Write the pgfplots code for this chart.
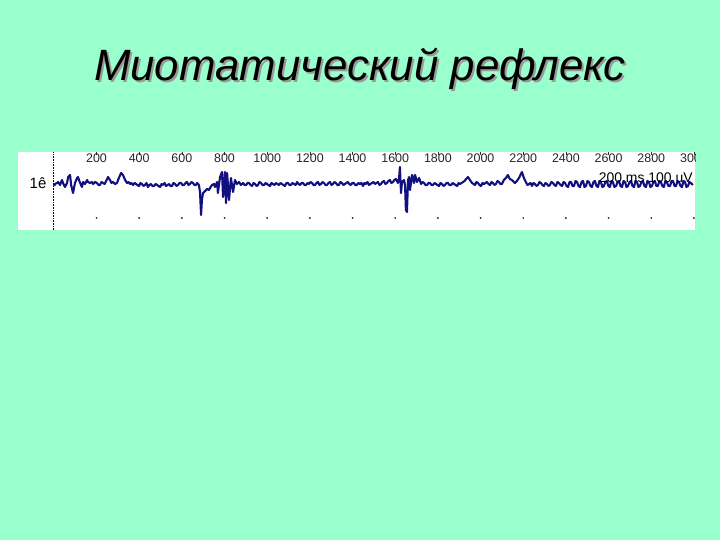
\documentclass[border=0pt]{standalone}
\usepackage{fontspec}
\setmainfont{Liberation Sans}
\usepackage{pgfplots}
\pgfplotsset{compat=1.18}
\definecolor{slidebg}{RGB}{153,255,204}
\definecolor{trace}{RGB}{16,16,128}

\begin{document}
\begin{tikzpicture}
\fill[slidebg] (0,0) rectangle (720bp,540bp);
% title with its shadow
\node[black!40, anchor=base, font=\fontsize{44}{50}\selectfont\itshape] at (362bp,457bp) {Миотатический рефлекс};
\node[black, anchor=base, font=\fontsize{44}{50}\selectfont\itshape] at (360bp,459bp) {Миотатический рефлекс};
\begin{scope}
\clip (18bp,310bp) rectangle (695bp,388bp);
\begin{axis}[
    at={(18bp,310bp)}, anchor=south west,
    scale only axis, width=677bp, height=78bp,
    xmin=-168, xmax=3005, ymin=-46, ymax=32,
    axis background/.style={fill=white},
    axis line style={draw=none},
    ytick=\empty,
    xtick={200,400,...,3000},
    xtick pos=upper, xticklabel pos=upper,
    tick align=inside, major tick length=3bp,
    tick style={black!80, line width=0.6bp},
    xticklabel style={anchor=north, inner sep=0pt, yshift=-2bp,
        text=black!85, font=\fontsize{12.5}{12.5}\selectfont},
    /pgf/number format/assume math mode=true,
    /pgf/number format/1000 sep={},
    clip=false,
]
\draw[black, line width=0.8bp, dash pattern=on 0.8bp off 0.8bp] (axis cs:0,-46) -- (axis cs:0,32);
\node[font=\fontsize{15}{15}\selectfont] at (axis cs:-74,1) {1ê};
\addplot[only marks, mark=*, mark size=0.7bp, black!80] coordinates {
(200,-34) (400,-34) (600,-34) (800,-34) (1000,-34) (1200,-34) (1400,-34)
(1600,-34) (1800,-34) (2000,-34) (2200,-34) (2400,-34) (2600,-34) (2800,-34) (3000,-34)};
\addplot[trace, line width=2.1bp, line join=round] coordinates {
(1,-2) (6,0) (15,1) (20,2) (29,-1) (38,4) (43,1) (52,-3) (62,1) (67,7)
(76,9) (81,-1) (90,-9) (99,1) (109,6) (113,7) (123,1) (132,-3) (137,2) (146,0)
(156,4) (160,2) (170,1) (179,2) (184,0) (193,2) (202,1) (209,-1) (216,-1) (223,2) (231,1) (238,0) (245,3) (254,7)
(263,4) (270,1) (277,2) (287,0) (296,1) (301,4) (315,11) (324,9) (334,4) (343,1) (350,2) (357,0) (364,1) (371,-1)
(378,1) (385,0) (392,-1) (399,-2) (406,1) (413,0) (420,-2) (427,-1) (434,1) (441,-3) (448,-1) (455,0) (462,-2) (470,-2) (477,0) (484,-1) (491,-2) (498,-3) (505,0) (512,-1)
(519,1) (526,-2) (533,-1) (540,0) (547,-2) (554,-2) (561,1) (568,0) (575,-2) (582,-1) (589,1) (596,1) (603,-1) (610,-1) (617,1) (624,2) (631,-1) (638,0) (645,2) (652,1)
(659,-1) (666,-1) (671,1) (676,0)
(680,-1) (685,-8) (690,-31) (694,-16) (699,-9) (709,-7) (718,-5) (727,-6) (732,-4) (741,-1)
(751,0) (755,-3) (765,2) (769,-9) (779,7) (788,12) (793,-13) (802,12) (807,-19) (812,11)
(821,-16) (830,6) (840,-8) (849,4) (858,0) (868,2) (877,-1)
(887,1) (894,-1) (901,-1) (908,1) (915,1) (922,-1) (929,-2) (936,1) (943,0) (950,-2) (957,-1) (964,2) (971,1) (978,-1) (985,-1) (992,1) (999,0) (1006,-1) (1013,-2)
(1020,1) (1027,0) (1034,-1) (1041,1) (1048,0) (1055,-1) (1062,1) (1069,0) (1076,-1) (1083,-2) (1090,1) (1097,1) (1104,-1) (1111,-1) (1118,1) (1126,0) (1133,-1) (1140,2) (1147,0) (1154,-1)
(1161,1) (1168,1) (1175,-1) (1182,-1) (1189,1) (1196,0) (1203,2) (1210,1) (1217,-1) (1224,-1) (1231,1) (1238,2) (1245,-1) (1252,0) (1259,2) (1266,1) (1273,-1) (1280,-1) (1287,1) (1294,2)
(1301,-1) (1308,0) (1315,2) (1322,1) (1329,-1) (1336,-1) (1343,2) (1350,1) (1357,-1) (1364,0) (1371,1) (1378,2) (1385,0) (1392,-1) (1399,1) (1406,1) (1413,-1) (1420,-1) (1427,1) (1435,0)
(1442,1) (1449,-2) (1456,1) (1463,0) (1470,2) (1477,-1) (1484,0) (1491,1) (1498,2) (1505,0) (1512,1) (1519,2) (1526,-1) (1533,0) (1540,2) (1547,3) (1554,0) (1561,1) (1568,3) (1575,4)
(1582,1) (1589,2) (1596,4) (1603,5) (1613,1)
(1618,6) (1622,17) (1627,-9) (1632,2) (1641,4) (1646,-1) (1650,-26) (1655,-28) (1660,4) (1665,7)
(1669,-6) (1679,9) (1688,1) (1693,9) (1702,2) (1712,6) (1721,0)
(1728,2) (1735,1) (1742,-1) (1749,-1) (1756,1) (1763,1) (1770,-1) (1777,-1) (1784,1) (1791,0) (1798,-1) (1805,-2) (1812,1) (1819,0) (1826,-2) (1833,-1) (1840,1) (1847,1) (1854,-1) (1862,-1)
(1869,1) (1876,0) (1883,-1) (1890,-2) (1897,1) (1904,0) (1911,1) (1918,2) (1925,3) (1932,5) (1941,7) (1950,4) (1960,1) (1967,0) (1974,-1) (1981,2) (1988,1) (1995,-1)
(2002,-2) (2009,1) (2016,0) (2023,1) (2030,2) (2037,0) (2044,-1) (2051,2) (2058,1) (2065,-1) (2072,0) (2079,3) (2086,2) (2093,0) (2100,0) (2109,4)
(2119,6) (2128,9) (2137,5) (2147,4) (2161,1) (2170,3) (2180,6) (2189,10) (2194,12) (2203,6)
(2212,2) (2220,-1)
(2227,0) (2234,1) (2241,-2) (2248,1) (2255,0) (2262,-2) (2269,-1) (2276,2) (2283,1) (2290,-1) (2297,-2) (2304,1) (2311,0) (2318,-2) (2325,-1) (2332,2) (2339,1) (2346,-1) (2353,-2)
(2360,2) (2367,1) (2375,-1) (2382,-2) (2389,2) (2396,1) (2403,-2) (2410,-3) (2417,2) (2424,2) (2431,-2) (2438,-2) (2445,3) (2452,2) (2459,-2) (2466,-3) (2473,2) (2480,3) (2487,-3) (2494,-2)
(2501,3) (2508,2) (2515,-2) (2522,-3) (2529,2) (2536,3) (2543,-2) (2550,-3) (2557,3) (2564,2) (2571,-3) (2578,-2) (2585,2) (2592,3) (2599,-2) (2606,-3) (2613,3) (2620,2) (2627,-3) (2635,-2)
(2642,2) (2649,3) (2656,-2) (2663,-3) (2670,3) (2677,2) (2684,-3) (2691,-2) (2698,2) (2705,3) (2712,-2) (2719,-3) (2726,3) (2733,2) (2740,-3) (2747,-2) (2754,2) (2761,3) (2768,-2) (2775,-3)
(2782,3) (2789,2) (2796,-3) (2803,-2) (2810,2) (2817,3) (2824,-2) (2831,-2) (2838,3) (2845,2) (2852,-2) (2859,-3) (2866,3) (2873,2) (2880,-2) (2888,-2) (2895,3) (2902,3) (2909,-2) (2916,-2)
(2923,3) (2930,2) (2937,-2) (2944,-3) (2951,3) (2958,2) (2965,-3) (2972,-2) (2979,2) (2986,1) (2995,-1)};
\node[anchor=base east, inner sep=0pt, font=\fontsize{14}{14}\selectfont] at (axis cs:2995,1.3) {200 ms 100 uV};
\end{axis}
\end{scope}
\end{tikzpicture}
\end{document}
